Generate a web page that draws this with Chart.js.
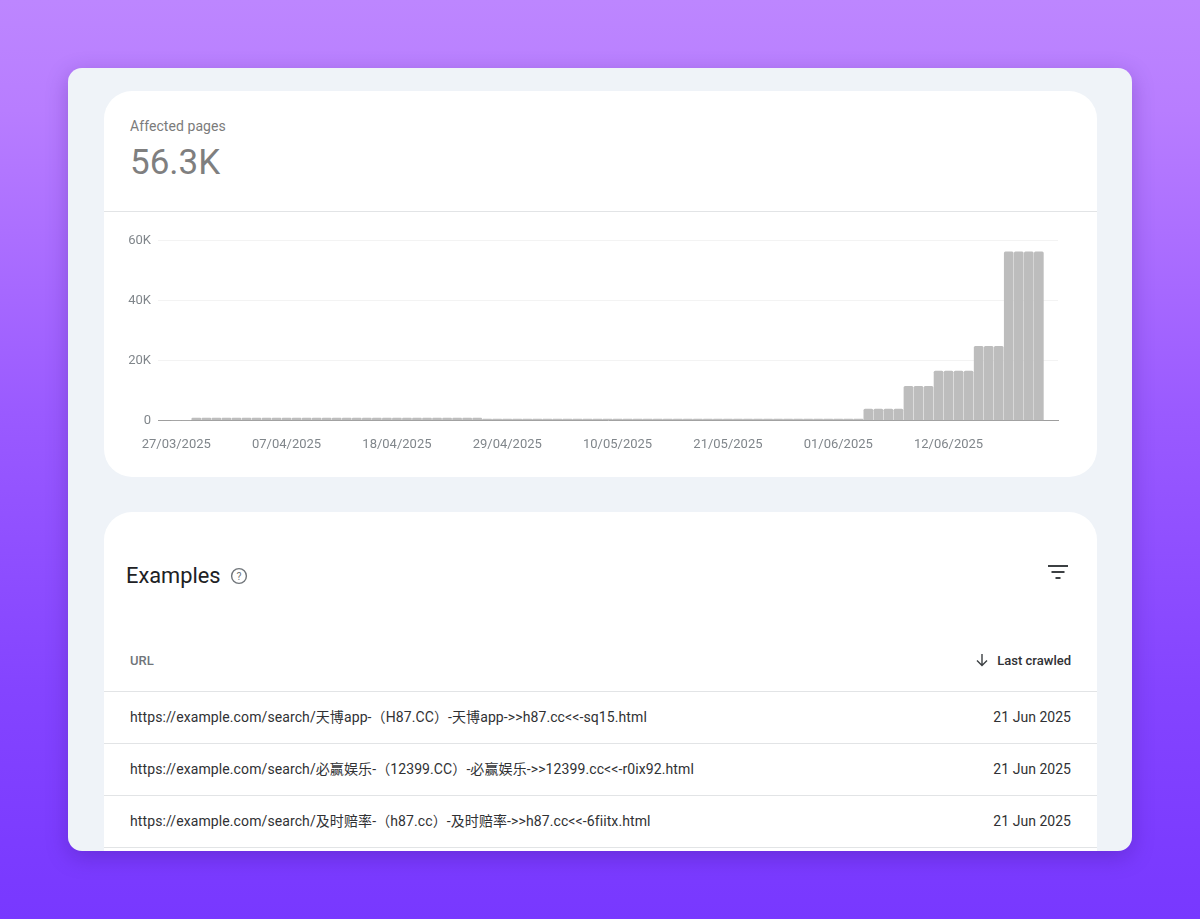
<!DOCTYPE html>
<html>
<head>
<meta charset="utf-8">
<script src="https://cdn.jsdelivr.net/npm/chart.js@4"></script>
<style>
    html, body { margin: 0; padding: 0; }
    body {
        width: 1200px; height: 919px; overflow: hidden; position: relative;
        background: linear-gradient(180deg, #bd86ff 0%, #b87dff 12%, #9a5aff 45%, #8444ff 75%, #7838ff 100%);
        font-family: Roboto, "Noto Sans CJK SC", sans-serif;
    }
    .abs { position: absolute; white-space: nowrap; }
    #panel {
        position: absolute; left: 68px; top: 68px; width: 1064px; height: 783px;
        background: #eff3f8; border-radius: 14px; overflow: hidden;
    }
    #shadow {
        position: absolute; left: 68px; top: 68px; width: 1064px; height: 783px;
        border-radius: 14px; box-shadow: 0 6px 22px rgba(50, 10, 120, 0.28);
    }
    .card { position: absolute; left: 36px; width: 993px; background: #fff; border-radius: 28px; }
    #issueChart { position: absolute; left: 0; top: 135px; }
    .line { position: absolute; left: 0; width: 993px; height: 1px; background: #e2e4e6; }
    .url { left: 26px; font-size: 14px; line-height: 16px; letter-spacing: 0.1px; color: #303134; }
    .date { right: 26px; font-size: 14px; line-height: 16px; letter-spacing: 0.03px; color: #303134; }
</style>
</head>
<body>
<div id="shadow"></div>
<div id="panel">
    <div class="card" style="top:23px;height:386px">
        <div class="abs" style="left:26px;top:27px;font-size:14px;letter-spacing:0.07px;color:#7b7b7b">Affected pages</div>
        <div class="abs" style="left:26px;top:51px;font-size:35px;color:#7f7f7f">56.3K</div>
        <div class="line" style="top:120px"></div>
        <canvas id="issueChart" width="993" height="239"></canvas>
    </div>
    <div class="card" id="examples" style="top:444px;height:400px">
        <div class="abs" style="left:22px;top:51px;font-size:21.8px;color:#202124">Examples</div>
        <svg class="abs" style="left:126px;top:55px" width="18" height="18" viewBox="0 0 18 18">
            <circle cx="9" cy="9" r="7.4" fill="none" stroke="#70757a" stroke-width="1.4"/>
            <text x="9" y="12.7" text-anchor="middle" font-size="10.5" fill="#70757a" font-family="Roboto">?</text>
        </svg>
        <svg class="abs" style="left:944px;top:52px" width="20" height="16" viewBox="0 0 20 16">
            <path d="M0 1h20v2H0zM3.5 7h13v2h-13zM7.5 13h5v2h-5z" fill="#3c4043"/>
        </svg>
        <div class="abs" style="left:26px;top:141px;font-size:13px;font-weight:500;color:#70757a">URL</div>
        <svg class="abs" style="left:871px;top:141px" width="14" height="14" viewBox="0 0 14 14">
            <path d="M7 1v11.5M2 7.5l5 5 5-5" fill="none" stroke="#3c4043" stroke-width="1.4"/>
        </svg>
        <div class="abs" style="right:26px;top:141px;font-size:13px;font-weight:500;color:#303134">Last crawled</div>
        <div class="line" style="top:179px"></div>
    </div>
</div>

<script>
// Дни по оси X
const categories = [
    '27/03/2025','28/03/2025','29/03/2025','30/03/2025','31/03/2025','01/04/2025','02/04/2025','03/04/2025',
    '04/04/2025','05/04/2025','06/04/2025','07/04/2025','08/04/2025','09/04/2025','10/04/2025','11/04/2025',
    '12/04/2025','13/04/2025','14/04/2025','15/04/2025','16/04/2025','17/04/2025','18/04/2025','19/04/2025',
    '20/04/2025','21/04/2025','22/04/2025','23/04/2025','24/04/2025','25/04/2025','26/04/2025','27/04/2025',
    '28/04/2025','29/04/2025','30/04/2025','01/05/2025','02/05/2025','03/05/2025','04/05/2025','05/05/2025',
    '06/05/2025','07/05/2025','08/05/2025','09/05/2025','10/05/2025','11/05/2025','12/05/2025','13/05/2025',
    '14/05/2025','15/05/2025','16/05/2025','17/05/2025','18/05/2025','19/05/2025','20/05/2025','21/05/2025',
    '22/05/2025','23/05/2025','24/05/2025','25/05/2025','26/05/2025','27/05/2025','28/05/2025','29/05/2025',
    '30/05/2025','31/05/2025','01/06/2025','02/06/2025','03/06/2025','04/06/2025','05/06/2025','06/06/2025',
    '07/06/2025','08/06/2025','09/06/2025','10/06/2025','11/06/2025','12/06/2025','13/06/2025','14/06/2025',
    '15/06/2025','16/06/2025','17/06/2025','18/06/2025','19/06/2025','20/06/2025','21/06/2025'
];

// Затронутые страницы по дням
const affectedPages = [
    0,0,800,800,800,800,800,800,800,800,800,800,800,800,800,800,
    800,800,800,800,800,800,800,800,800,800,800,800,800,800,800,500,
    500,500,500,500,500,500,500,500,500,500,500,500,500,500,500,500,
    500,500,500,500,500,500,500,500,500,500,500,500,500,500,500,500,
    500,500,500,500,500,3800,3800,3800,3800,11400,11400,11400,16500,16500,
    16500,16500,24800,24800,24800,56300,56300,56300,56300
];

// Подписи осей
const xTickDays = ['27/03/2025','07/04/2025','18/04/2025','29/04/2025','10/05/2025','21/05/2025','01/06/2025','12/06/2025'];
const yTicks = [0, 20000, 40000, 60000];

// Таблица примеров
const exampleUrls = [
    'https://example.com/search/天博app-（H87.CC）-天博app->>h87.cc<<-sq15.html',
    'https://example.com/search/必赢娱乐-（12399.CC）-必赢娱乐->>12399.cc<<-r0ix92.html',
    'https://example.com/search/及时赔率-（h87.cc）-及时赔率->>h87.cc<<-6fiitx.html'
];
const exampleDates = ['21 Jun 2025', '21 Jun 2025', '21 Jun 2025'];

// Строки таблицы
const examples = document.getElementById('examples');
exampleUrls.forEach(function(url, i) {
    const top = 180 + i * 52.2;
    const left = document.createElement('div');
    left.className = 'abs url';
    left.style.top = (top + 17) + 'px';
    left.textContent = url;
    const right = document.createElement('div');
    right.className = 'abs date';
    right.style.top = (top + 17) + 'px';
    right.textContent = exampleDates[i];
    const line = document.createElement('div');
    line.className = 'line';
    line.style.top = (top + 51) + 'px';
    examples.append(left, right, line);
});

// График
Chart.defaults.font.family = 'Roboto';
new Chart(document.getElementById('issueChart').getContext('2d'), {
    type: 'bar',
    data: {
        datasets: [{
            data: affectedPages.map((v, i) => ({ x: i, y: v })),
            backgroundColor: '#bdbdbd',
            barThickness: 9,
            borderRadius: { topLeft: 1.5, topRight: 1.5 },
            borderSkipped: 'bottom'
        }]
    },
    options: {
        responsive: false,
        animation: false,
        devicePixelRatio: 1,
        layout: { padding: { top: 6, right: 39 } },
        plugins: { legend: { display: false }, tooltip: { enabled: false } },
        scales: {
            x: {
                type: 'linear',
                offset: false,
                min: -1.82,
                max: 87.91,
                afterFit: function(scale) { scale.height = 44.5; },
                afterBuildTicks: function(scale) {
                    scale.ticks = xTickDays.map(d => ({ value: categories.indexOf(d) }));
                },
                grid: { display: false, drawTicks: false },
                border: { color: '#9e9e9e', width: 1 },
                ticks: {
                    autoSkip: false,
                    maxRotation: 0,
                    padding: 16,
                    color: '#80868b',
                    font: { size: 13 },
                    callback: function(value) { return categories[value]; }
                }
            },
            y: {
                min: 0,
                max: 60000,
                afterFit: function(scale) { scale.width = 54; },
                afterBuildTicks: function(scale) {
                    scale.ticks = yTicks.map(v => ({ value: v }));
                },
                grid: { color: '#f3f3f3', drawTicks: false },
                border: { display: false },
                ticks: {
                    padding: 7,
                    color: '#80868b',
                    font: { size: 13 },
                    callback: function(value) { return value === 0 ? '0' : (value / 1000) + 'K'; }
                }
            }
        }
    }
});
</script>
</body>
</html>
